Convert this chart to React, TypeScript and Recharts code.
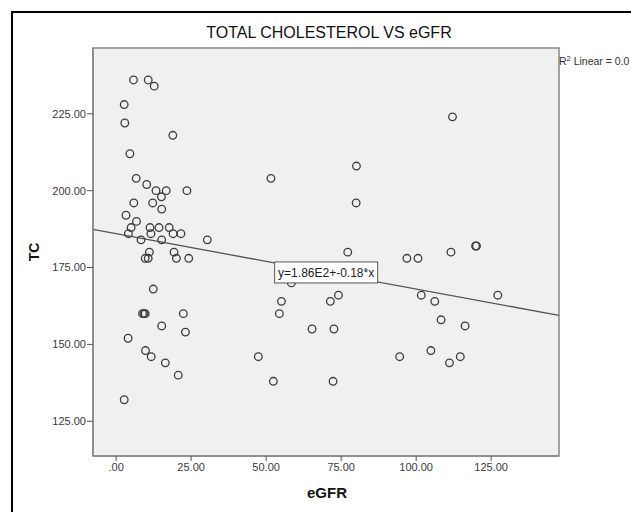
import React from 'react'
import {
  ScatterChart,
  Scatter,
  XAxis,
  YAxis,
  ReferenceLine,
  ReferenceArea,
  ReferenceDot
} from 'recharts'

// eGFR (x) and total cholesterol (y)
const egfr = [
  5.8, 10.7, 12.7, 2.7, 2.9, 18.9, 4.6, 6.7, 10.2, 13.3, 16.7, 23.6, 15.1, 5.9, 12.2,
  15.2, 3.3, 6.8, 5.0, 11.3, 14.3, 17.7, 4.1, 11.6, 19.0, 21.6, 8.3, 15.2, 30.4,
  11.1, 19.3, 9.7, 10.7, 20.1, 24.2, 12.4, 8.8, 9.3, 9.7, 22.4, 15.2, 23.1, 4.0,
  9.8, 11.7, 16.4, 20.7, 2.7,
  51.6, 80.1, 80.0, 77.2, 96.9, 100.6, 58.4, 74.1, 71.4, 55.1, 54.4, 65.3, 72.6,
  47.4, 94.5, 52.4, 72.3, 112.1, 111.6, 119.8, 120.1, 101.7, 106.2, 127.2, 108.3,
  116.3, 104.9, 114.7, 111.1
]
const tc = [
  236, 236, 234, 228, 222, 218, 212, 204, 202, 200, 200, 200, 198, 196, 196,
  194, 192, 190, 188, 188, 188, 188, 186, 186, 186, 186, 184, 184, 184,
  180, 180, 178, 178, 178, 178, 168, 160, 160, 160, 160, 156, 154, 152,
  148, 146, 144, 140, 132,
  204, 208, 196, 180, 178, 178, 170, 166, 164, 164, 160, 155, 155,
  146, 146, 138, 138, 224, 180, 182, 182, 166, 164, 166, 158,
  156, 148, 146, 144
]
const xTicks = [0, 25, 50, 75, 100, 125]
const yTicks = [125, 150, 175, 200, 225]
const xDomain = [-7.7, 147.6]
const yDomain = [113.7, 246.4]
const intercept = 186
const slope = -0.18
const fitLabel = 'y=1.86E2+-0.18*x'

const points = egfr.map((x, i) => ({ x, y: tc[i] }))
const fitLine = xDomain.map((x) => ({ x, y: intercept + slope * x }))

const font = '"Liberation Sans", Arial, sans-serif'

const fmt = (v: number) => (v === 0 ? '.00' : v.toFixed(2))

const Ring = (props: any) => (
  <circle cx={props.cx} cy={props.cy} r={3.8} fill="none" stroke="#3c3c3c" strokeWidth={1.3} />
)

const FitBox = (props: any) => {
  const { cx, cy } = props
  return (
    <g>
      <rect x={cx - 51.5} y={cy - 10.5} width={103} height={21} fill="#fff" stroke="#555" strokeWidth={1} />
      <text x={cx} y={cy + 4.2} textAnchor="middle" fontSize={12} fontFamily={font} fill="#222">
        {fitLabel}
      </text>
    </g>
  )
}

export default function App() {
  return (
    <div
      style={{
        position: 'absolute',
        left: 0,
        top: 0,
        width: 631,
        height: 512,
        overflow: 'hidden',
        background: '#fff',
        fontFamily: font
      }}
    >
      <div
        style={{
          position: 'absolute',
          left: 11,
          top: 11,
          width: 700,
          height: 600,
          border: '2px solid #000',
          boxSizing: 'border-box'
        }}
      />
      <div style={{ position: 'absolute', left: 0, top: 0 }}>
        <ScatterChart width={631} height={512} margin={{ top: 48, right: 72, bottom: 16, left: 13 }}>
          <XAxis
            type="number"
            dataKey="x"
            domain={xDomain}
            ticks={xTicks}
            tickFormatter={fmt}
            height={40}
            tickSize={5}
            tickMargin={2}
            axisLine={{ stroke: '#888', strokeWidth: 1.5 }}
            tickLine={{ stroke: '#555' }}
            tick={{ fontSize: 11, fill: '#3a3a3a', fontFamily: font }}
            allowDataOverflow
          />
          <YAxis
            type="number"
            dataKey="y"
            domain={yDomain}
            ticks={yTicks}
            tickFormatter={fmt}
            width={80}
            tickSize={6}
            tickMargin={1}
            axisLine={{ stroke: '#888', strokeWidth: 1.5 }}
            tickLine={{ stroke: '#555' }}
            tick={{ fontSize: 11, fill: '#3a3a3a', fontFamily: font }}
            allowDataOverflow
          />
          <ReferenceArea
            x1={xDomain[0]}
            x2={xDomain[1]}
            y1={yDomain[0]}
            y2={yDomain[1]}
            fill="#f0f0f0"
            fillOpacity={1}
            stroke="#888"
            strokeWidth={1.5}
            ifOverflow="visible"
          />
          <ReferenceLine segment={fitLine} stroke="#555" strokeWidth={1.3} ifOverflow="visible" />
          <Scatter data={points} shape={Ring} isAnimationActive={false} />
          <ReferenceDot x={70} y={173.4} shape={FitBox} ifOverflow="visible" zIndex={1000} />
        </ScatterChart>
      </div>
      <div
        style={{
          position: 'absolute',
          left: 96,
          width: 466,
          top: 23,
          lineHeight: '20px',
          textAlign: 'center',
          fontSize: 16,
          color: '#111'
        }}
      >
        TOTAL CHOLESTEROL VS eGFR
      </div>
      <div
        style={{
          position: 'absolute',
          left: 559,
          top: 52,
          lineHeight: '13px',
          fontSize: 10.5,
          color: '#333',
          whiteSpace: 'nowrap'
        }}
      >
        R<sup style={{ fontSize: 7.5, verticalAlign: 4 }}>2</sup> Linear = 0.0
      </div>
      <div
        style={{
          position: 'absolute',
          left: 14,
          top: 242,
          width: 40,
          lineHeight: '20px',
          textAlign: 'center',
          fontSize: 14,
          fontWeight: 'bold',
          color: '#111',
          transform: 'rotate(-90deg)'
        }}
      >
        TC
      </div>
      <div
        style={{
          position: 'absolute',
          left: 287,
          top: 483,
          width: 80,
          lineHeight: '20px',
          textAlign: 'center',
          fontSize: 15,
          fontWeight: 'bold',
          color: '#111'
        }}
      >
        eGFR
      </div>
    </div>
  )
}
